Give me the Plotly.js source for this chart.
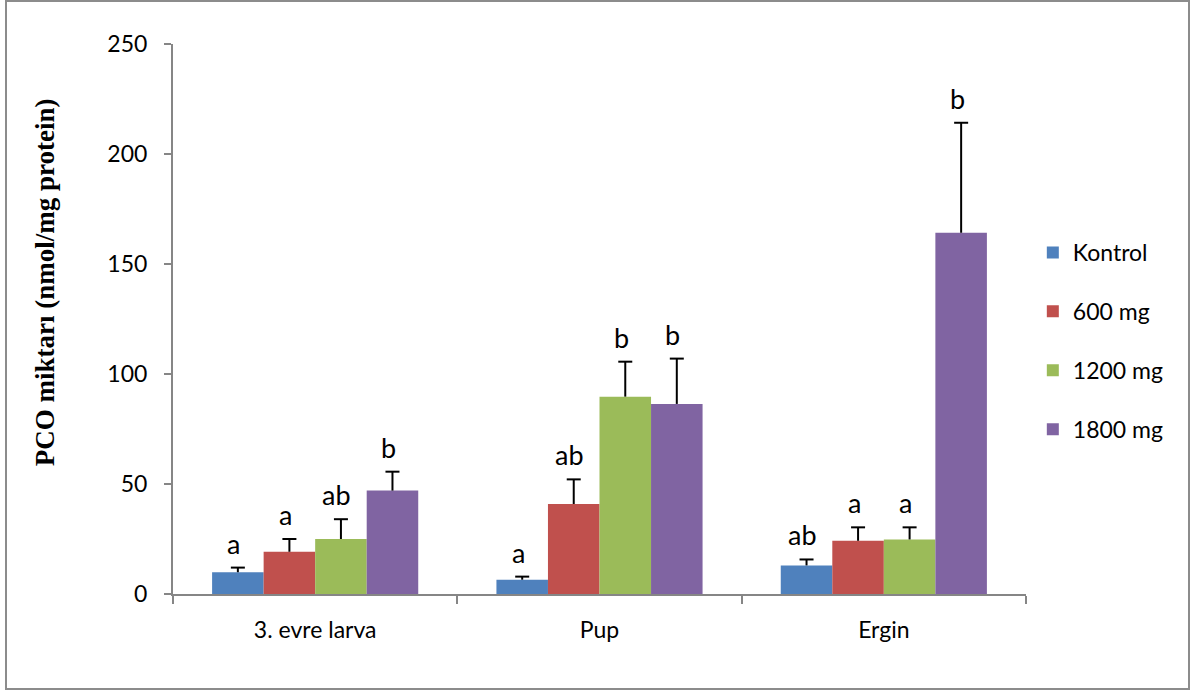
<!DOCTYPE html>
<html>
<head>
<meta charset="utf-8">
<script src="https://cdn.plot.ly/plotly-3.0.1.min.js"></script>
<style>
  html, body { margin: 0; padding: 0; background: #fff; }
  #wrap { position: relative; width: 1191px; height: 691px; }
  #chart { position: absolute; left: 0; top: 0; width: 1191px; height: 691px; }
  #frame { position: absolute; left: 5px; top: 0px; width: 1185px; height: 690px;
           border: 2px solid #8c8c8c; box-sizing: border-box; pointer-events: none; }
</style>
</head>
<body>
<div id="wrap">
  <div id="chart"></div>
  <div id="frame"></div>
</div>
<script>
const categories = ["3. evre larva", "Pup", "Ergin"];
const seriesNames = ["Kontrol", "600 mg", "1200 mg", "1800 mg"];
const kontrol = [9.9, 6.5, 13.0];
const mg600 = [19.2, 40.9, 24.2];
const mg1200 = [25.0, 89.7, 24.8];
const mg1800 = [47.0, 86.4, 164.2];
const errKontrol = [2.1, 1.4, 2.7];
const err600 = [5.8, 11.2, 6.1];
const err1200 = [9.0, 15.9, 5.5];
const err1800 = [8.6, 20.6, 50.0];
const lettersKontrol = ["a", "a", "ab"];
const letters600 = ["a", "ab", "a"];
const letters1200 = ["ab", "b", "a"];
const letters1800 = ["b", "b", "b"];
const colors = ["#4F81BD", "#C0504D", "#9BBB59", "#8064A2"];
const yTitle = "PCO miktarı (nmol/mg protein)";

const values = [kontrol, mg600, mg1200, mg1800];
const errors = [errKontrol, err600, err1200, err1800];
const letters = [lettersKontrol, letters600, letters1200, letters1800];

const bargap = 0.275;
const fontFam = "Lato, 'Open Sans', sans-serif";
const tickFont = { family: fontFam, size: 23, color: "#000" };

const traces = seriesNames.map((name, s) => ({
  type: "bar",
  name: name,
  x: categories,
  y: values[s],
  marker: { color: colors[s], line: { width: 0 } },
  error_y: { type: "data", symmetric: false, array: errors[s],
             arrayminus: errors[s].map(() => 0),
             color: "#000", thickness: 2, width: 0 },
  legendgroup: "g" + s,
  hoverinfo: "skip"
}));

// caps on top of the error bars (on an overlaid numeric axis sharing the same range)
const barW = (1 - bargap) / seriesNames.length;
const capX = [], capY = [];
const annotations = [];
seriesNames.forEach((name, s) => {
  categories.forEach((c, i) => {
    const xp = i + (s - (seriesNames.length - 1) / 2) * barW;
    const top = values[s][i] + errors[s][i];
    capX.push(xp);
    capY.push(top);
    annotations.push({
      x: xp, y: top, xref: "x", yref: "y",
      text: letters[s][i], showarrow: false,
      yanchor: "bottom", yshift: 6, xshift: -4,
      font: { family: fontFam, size: 27, color: "#000" }
    });
  });
});
traces.push({
  type: "scatter", mode: "markers", x: capX, y: capY, xaxis: "x2", yaxis: "y",
  marker: { symbol: "line-ew", size: 10, color: "#000", line: { color: "#000", width: 2 } },
  showlegend: false, hoverinfo: "skip", cliponaxis: false
});

annotations.push({
  text: yTitle, textangle: -90, showarrow: false,
  xref: "paper", yref: "paper", x: -0.150, y: 0.567,
  xanchor: "center", yanchor: "middle",
  font: { family: "'Liberation Serif', 'Times New Roman', serif", size: 27, color: "#000", weight: "bold" }
});

const layout = {
  width: 1191, height: 691,
  margin: { l: 173, r: 165, t: 44, b: 97 },
  paper_bgcolor: "rgba(0,0,0,0)",
  plot_bgcolor: "#fff",
  barmode: "group",
  bargap: bargap,
  bargroupgap: 0,
  showlegend: true,
  legend: {
    x: 1.008, y: 0.66, xanchor: "left", yanchor: "top",
    font: { family: fontFam, size: 23, color: "#000" },
    tracegroupgap: 26, traceorder: "grouped",
    bgcolor: "rgba(0,0,0,0)"
  },
  xaxis: {
    type: "category",
    range: [-0.5, 2.5],
    showline: true, linecolor: "#868686", linewidth: 2,
    ticks: "outside", tickson: "boundaries", ticklen: 8, tickcolor: "#868686", tickwidth: 2,
    tickfont: tickFont, ticklabelstandoff: 14,
    showgrid: false, zeroline: false
  },
  xaxis2: {
    overlaying: "x", anchor: "y", range: [-0.5, 2.5], visible: false,
    showgrid: false, zeroline: false
  },
  yaxis: {
    range: [0, 250], dtick: 50, tick0: 0,
    showline: true, linecolor: "#868686", linewidth: 2,
    ticks: "outside", ticklen: 7, tickcolor: "#868686", tickwidth: 2,
    tickfont: tickFont, ticklabelstandoff: 12,
    showgrid: false, zeroline: false
  },
  annotations: annotations
};

Plotly.newPlot("chart", traces, layout, { displayModeBar: false, staticPlot: true });
</script>
</body>
</html>
